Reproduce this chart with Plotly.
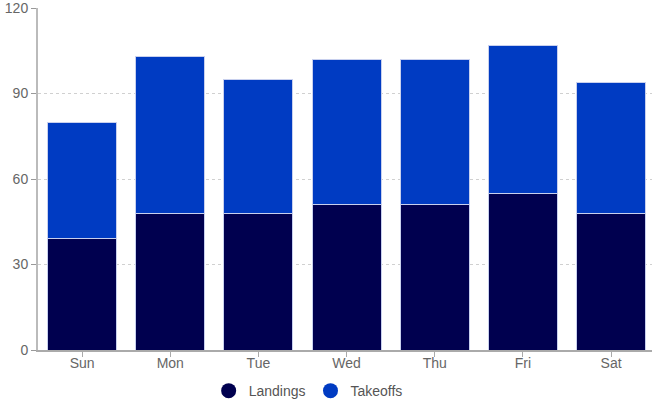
import plotly.graph_objects as go

days = ['Sun', 'Mon', 'Tue', 'Wed', 'Thu', 'Fri', 'Sat']
landings = [39, 48, 48, 51, 51, 55, 48]
takeoffs = [41, 55, 47, 51, 51, 52, 46]

c_land = '#00004f'
c_take = '#003bc2'

fig = go.Figure()
fig.add_trace(go.Bar(x=days, y=landings, name='Landings', marker=dict(color=c_land, line=dict(color='#c8d0ee', width=1)), showlegend=False))
fig.add_trace(go.Bar(x=days, y=takeoffs, name='Takeoffs', marker=dict(color=c_take, line=dict(color='#c8d0ee', width=1)), showlegend=False))

# circle markers for the legend only
for name, col in [('Landings', c_land), ('Takeoffs', c_take)]:
    fig.add_trace(go.Scatter(x=[None], y=[None], mode='markers', name=name,
                             marker=dict(color=col, size=15, symbol='circle')))

fig.update_layout(
    barmode='stack', bargap=0.217,
    width=652, height=408,
    margin=dict(l=38, r=0, t=8, b=58),
    plot_bgcolor='white', paper_bgcolor='white',
    font=dict(family='Liberation Sans, Arial', size=14, color='#666'),
    legend=dict(orientation='h', x=0.44, xanchor='center', y=-0.12, yanchor='middle',
                traceorder='normal', font=dict(size=14, color='#555'), itemwidth=30),
)
fig.update_xaxes(range=[-0.5, 6.464], showline=True, linecolor='#aaa', linewidth=2,
                 ticks='outside', ticklen=5, tickcolor='#aaa', showgrid=False, automargin=False,
                 ticklabelstandoff=-6)
fig.update_yaxes(range=[0, 120], dtick=30, showline=True, linecolor='#bbb', linewidth=2,
                 ticks='outside', ticklen=5, tickcolor='#999', gridcolor='#d0d0d0',
                 griddash='3px,3px', zeroline=False, automargin=False,
                 ticklabeloverflow='allow')

# drop the default page margin so the figure sits at the window corner
fig.write_html('out.html', config={'displayModeBar': False},
               post_script="document.body.style.margin='0';")
